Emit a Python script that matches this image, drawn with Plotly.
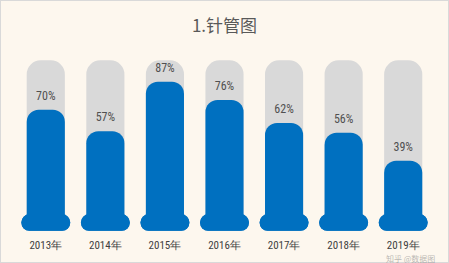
import plotly.graph_objects as go

years = ["2013年", "2014年", "2015年", "2016年", "2017年", "2018年", "2019年"]
values = [70, 57, 87, 76, 62, 56, 39]
full = [100] * len(years)
pill_up = [10] * len(years)
pill_down = [-10] * len(years)

blue = "#0070c0"
grey = "#d9d9d9"
num_font = "Liberation Sans Narrow, Arial Narrow, Roboto Condensed, Liberation Sans, sans-serif"

fig = go.Figure()
# grey tube
fig.add_trace(go.Bar(x=years, y=full, width=0.64, marker=dict(color=grey, cornerradius=14, line=dict(width=0)),
                     hoverinfo="skip"))
# base pill (overlapping halves, one rounded on top, one rounded on bottom)
fig.add_trace(go.Bar(x=years, y=pill_up, base=[-3.5]*len(years), width=0.82,
                     marker=dict(color=blue, cornerradius=8, line=dict(width=0)), hoverinfo="skip"))
fig.add_trace(go.Bar(x=years, y=pill_down, base=[6.5]*len(years), width=0.82,
                     marker=dict(color=blue, cornerradius=8, line=dict(width=0)), hoverinfo="skip"))
# blue fill (on its own overlaying axis so its top gets rounded)
fig.add_trace(go.Bar(x=years, y=values, width=0.64, xaxis="x2", yaxis="y2",
                     marker=dict(color=blue, cornerradius=12, line=dict(width=0)), hoverinfo="skip"))
# labels
fig.add_trace(go.Scatter(x=years, y=[v + 8 for v in values], mode="text", xaxis="x2", yaxis="y2",
                         text=[f"{v}%" for v in values],
                         textfont=dict(family=num_font, size=12, color="#505050"),
                         hoverinfo="skip"))

fig.update_layout(
    width=449, height=263,
    barmode="overlay",
    showlegend=False,
    paper_bgcolor="#fdf7ee",
    plot_bgcolor="#fdf7ee",
    margin=dict(l=16, r=16, t=50, b=31),
    title=dict(text="1.针管图", x=0.5, xanchor="center", y=0.9, yanchor="middle",
               font=dict(family="Noto Sans CJK SC, sans-serif", size=17, color="#595959")),
    xaxis=dict(showgrid=False, zeroline=False, showline=False, ticks="outside", ticklen=3,
               tickcolor="rgba(0,0,0,0)",
               tickfont=dict(family=num_font, size=11, color="#404040"),
               range=[-0.5, 6.5]),
    yaxis=dict(visible=False, range=[-4.25, 106.3]),
    xaxis2=dict(overlaying="x", visible=False, range=[-0.5, 6.5], matches="x"),
    yaxis2=dict(overlaying="y", visible=False, range=[-4.25, 106.3]),
    shapes=[dict(type="rect", xref="paper", yref="paper", x0=-16/417, x1=1+16/417,
                 y0=-31/182, y1=1+50/182, line=dict(color="#d9d9d9", width=2), fillcolor="rgba(0,0,0,0)")],
    annotations=[dict(text="知乎 @数据图", x=1.01, xref="paper", xanchor="right", y=-0.143, yref="paper",
                      yanchor="middle", showarrow=False,
                      font=dict(family="Noto Sans CJK SC, sans-serif", size=8, color="rgba(120,120,120,0.5)"))],
)

fig.write_html("out.html")
